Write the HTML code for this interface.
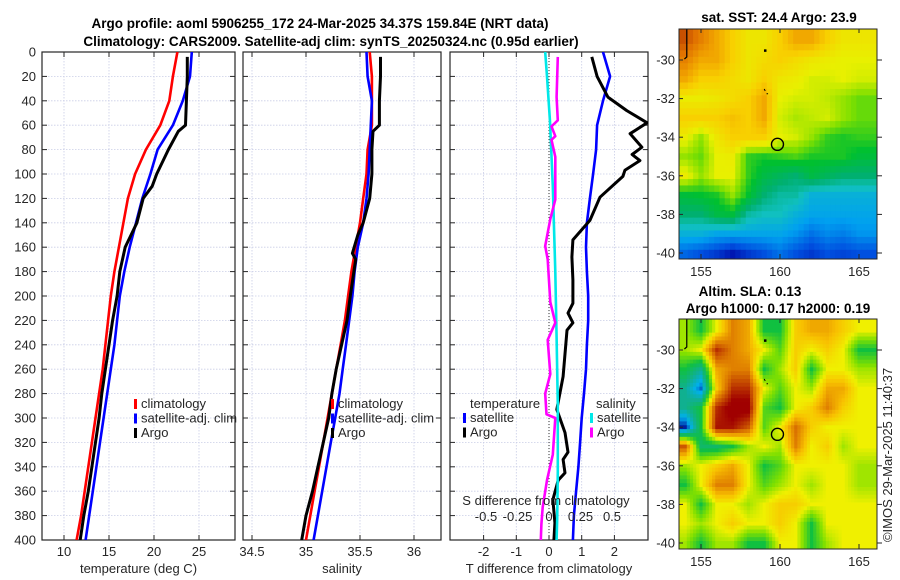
<!DOCTYPE html>
<html><head><meta charset="utf-8">
<style>
html,body{margin:0;padding:0;background:#fff;}
svg{display:block;font-family:"Liberation Sans","DejaVu Sans",sans-serif;}
.t{font-size:13px;fill:#262626;}
.b{font-weight:bold;fill:#000;font-size:13.5px;}
</style></head>
<body>
<svg id="fig" width="900" height="580" viewBox="0 0 900 580" xmlns="http://www.w3.org/2000/svg">
<defs>
<clipPath id="c1"><rect x="42" y="52" width="193" height="488"/></clipPath>
<clipPath id="c2"><rect x="243" y="52" width="198" height="488"/></clipPath>
<clipPath id="c3"><rect x="450" y="52" width="198" height="488"/></clipPath>
<clipPath id="cm1"><rect x="679" y="29" width="198" height="230"/></clipPath>
<clipPath id="cm2"><rect x="679" y="319" width="198" height="230"/></clipPath>
</defs>
<text class="b" x="320" y="28" text-anchor="middle">Argo profile: aoml 5906255_172 24-Mar-2025 34.37S 159.84E (NRT data)</text>
<text class="b" x="331" y="46" text-anchor="middle">Climatology: CARS2009. Satellite-adj clim: synTS_20250324.nc (0.95d earlier)</text>
<text class="b" x="779" y="22" text-anchor="middle">sat. SST: 24.4 Argo: 23.9</text>
<text class="b" x="750" y="296" text-anchor="middle">Altim. SLA: 0.13</text>
<text class="b" x="778" y="313" text-anchor="middle">Argo h1000: 0.17 h2000: 0.19</text>
<text class="t" x="892" y="455" text-anchor="middle" transform="rotate(-90 892 455)">©IMOS 29-Mar-2025 11:40:37</text>
<g id="g"></g>
</svg>
<script>
// ---------- data ----------
const depthTicks=[0,20,40,60,80,100,120,140,160,180,200,220,240,260,280,300,320,340,360,380,400];
const climDepth=[0,20,40,60,80,100,120,140,160,180,200,220,240,260,280,300,320,340,360,380,400];
const climT=[22.6,22.1,21.7,20.7,19.1,17.9,17.1,16.6,16.1,15.6,15.2,14.9,14.6,14.3,13.9,13.5,13.1,12.7,12.3,11.9,11.4];
const satT=[24.2,24.0,23.2,22.1,20.4,19.6,18.7,18.0,17.3,16.7,16.2,15.9,15.6,15.2,14.8,14.4,14.0,13.6,13.2,12.8,12.4];
const argoDepth=[4,20,40,60,65,80,100,110,120,140,160,170,180,200,220,240,260,280,300,320,340,360,380,400];
const argoT=[23.7,23.7,23.6,23.5,22.7,21.6,20.3,19.8,18.8,18.1,16.8,16.5,16.2,15.9,15.4,15.0,14.6,14.2,13.9,13.5,13.1,12.7,12.2,11.8];
const climS=[35.59,35.61,35.61,35.61,35.57,35.56,35.53,35.5,35.46,35.42,35.39,35.36,35.32,35.28,35.24,35.2,35.16,35.12,35.08,35.04,35.0];
const satS=[35.56,35.57,35.61,35.6,35.59,35.58,35.56,35.53,35.48,35.45,35.43,35.4,35.37,35.34,35.31,35.27,35.23,35.19,35.15,35.11,35.07];
const argoSDepth=[4,20,40,60,65,80,100,120,140,150,165,170,200,220,240,260,280,300,320,340,360,380,400];
const argoS=[35.69,35.69,35.68,35.68,35.62,35.61,35.61,35.59,35.53,35.48,35.43,35.46,35.41,35.38,35.33,35.28,35.24,35.21,35.16,35.11,35.06,35.0,34.96];
const satdTDepth=[0,20,40,60,80,100,120,140,160,180,200,220,240,260,280,300,320,340,360,380,400];
const satdT=[1.65,1.87,1.65,1.47,1.44,1.35,1.25,1.16,1.13,1.16,1.2,1.2,1.16,1.13,1.07,1.0,0.95,0.9,0.83,0.76,0.73];
const argodTDepth=[4,20,37,48,58,67,78,84,89,97,102,119,138,154,168,187,206,214,222,228,266,293,312,328,334,345,351,367,386,400];
const argodT=[1.31,1.47,1.8,2.38,3.0,2.48,2.84,2.54,2.78,2.32,2.26,1.56,1.25,0.73,0.7,0.73,0.73,0.58,0.73,0.55,0.43,0.24,0.49,0.58,0.43,0.49,0.28,0.12,0.18,0.15];
const satdSDepth=[0,20,57,110,180,234,289,344,382,400];
const satdS=[-0.03,-0.016,0.008,0.03,0.05,0.06,0.07,0.07,0.065,0.06];
const argodSDepth=[4,37,56,61,69,72,86,121,137,159,170,205,222,236,264,280,297,300,330,351,373,387,400];
const argodS=[0.07,0.06,0.07,0.02,0.05,0.02,0.05,0.05,0.01,-0.03,-0.01,0.01,0.05,-0.01,0.01,-0.03,-0.02,0.05,0.03,-0.016,-0.05,-0.06,-0.065];
const tTicks=[10,15,20,25];
const sTicks=[34.5,35,35.5,36];
const dTTicks=[-2,-1,0,1,2];
const dSTicks=[-0.5,-0.25,0,0.25,0.5];
const dSTickLabels=["-0.5","-0.25","0","0.25","0.5"];
const mapLons=[154,155,156,157,158,159,160,161,162,163,164,165];
const mapLats=[-29,-30,-31,-32,-33,-34,-35,-36,-37,-38,-39,-40];
const sstGrid=[
[25.5,25,24.5,24,23.6,23.6,24,24.5,24.5,24,23.6,23.6],
[25,24.5,24.5,24,23.6,23.8,24,23.8,23.6,23.5,23.4,23.4],
[24.5,24,24,23.8,23.6,24,23.6,23.5,23.3,23.3,23.4,23.3],
[23.5,23.5,23.6,23.8,24,24.5,23.4,23.3,23.3,23.2,23.0,22.8],
[24,24,24,24.2,24,24.5,23.3,23.1,23.2,23.3,23.0,22.8],
[23.5,23,23.6,24,24,24,23.4,23.3,23,22.6,22.5,22.6],
[23,22.8,23.4,23.5,22.6,22.5,22.6,22.7,22.5,22.5,22.5,22.3],
[23.5,23,23.4,23.4,22.6,22.2,22,21.8,22.2,22,21.8,21.8],
[22.3,22.4,22.5,23,22.4,21.8,21.5,21.5,21,21,21,21],
[21.8,21.8,22.2,22.3,21.5,21.3,21.3,21,20.8,20.8,20.8,20.8],
[21,21,20.8,20.8,20.8,20.8,20.8,20.6,20.3,20.5,20.4,20.6],
[20.2,20,19.8,19.5,19.8,20,20.3,20,19.8,20,19.9,20]];
const slaGrid=[
[0.0,-0.1,0.05,0.2,0.15,-0.1,-0.1,0.1,0.15,0.15,0.1,0.05],
[0.0,0.05,0.3,0.2,0.15,0.05,-0.05,0.1,0.05,0.1,0.05,-0.1],
[-0.1,-0.2,0.15,0.2,0.2,-0.1,0.0,0.1,-0.1,0.05,0.05,0.0],
[-0.2,-0.35,0.1,0.3,0.3,0.05,-0.05,0.05,0.0,0.15,0.15,0.05],
[-0.2,-0.1,0.3,0.38,0.38,-0.05,-0.1,0.05,0.1,0.2,0.1,0.05],
[-0.4,-0.1,0.33,0.33,0.25,-0.05,0.05,0.22,0.1,0.05,0.05,0.05],
[0.25,-0.15,-0.15,-0.1,0.0,0.05,0.0,0.2,0.05,0.1,0.0,0.05],
[0.0,0.05,0.1,0.15,0.05,-0.1,-0.05,0.05,0.05,0.05,0.05,0.0],
[-0.1,0.05,0.2,0.2,0.05,-0.05,0.0,0.05,0.0,0.05,0.05,0.0],
[0.05,-0.1,0.05,0.05,0.0,0.05,0.1,0.1,0.05,0.05,0.05,0.05],
[0.05,0.0,0.05,0.1,0.05,0.05,0.1,0.05,-0.1,0.05,0.05,0.05],
[0.0,-0.1,0.0,0.0,-0.1,-0.1,0.05,0.05,-0.1,0.0,0.05,0.05]];
const mapLatTicks=[-30,-32,-34,-36,-38,-40];
const mapLonTicks=[155,160,165];
const argoLon=159.84, argoLat=-34.37;

// ---------- helpers ----------
const NS="http://www.w3.org/2000/svg";
const G=document.getElementById('g');
function mk(tag,attrs,parent){const e=document.createElementNS(NS,tag);for(const k in attrs)e.setAttribute(k,attrs[k]);(parent||G).appendChild(e);return e;}
const yD=d=>52+d*1.22;
const xT=v=>64+(v-10)*9;
const xS=v=>306+(v-35)*108;
const xdT=v=>549+v*32.7;
const xdS=v=>549+v*126;
const mx=lon=>780+(lon-160)*15.8;
const my1=lat=>60+(-30-lat)*19.3;
const my2=lat=>350+(-30-lat)*19.3;

function panel(x0,w,name,xTicks,xf,labels,showY,xlabel){
  const grid=mk('g',{});
  
  
  depthTicks.forEach(d=>{mk('line',{x1:x0,x2:x0+w,y1:yD(d),y2:yD(d),stroke:'#c9cde6','stroke-width':0.8,'stroke-dasharray':'1.5,1.5'},grid);});
  xTicks.forEach(v=>{const x=xf(v);mk('line',{x1:x,x2:x,y1:52,y2:540,stroke:'#c9cde6','stroke-width':0.8,'stroke-dasharray':'1.5,1.5'},grid);});
  const ax=mk('g',{});
  
  
  mk('rect',{x:x0,y:52,width:w,height:488,fill:'none',stroke:'#262626','stroke-width':1.2},ax);
  depthTicks.forEach(d=>{const y=yD(d);
    mk('line',{x1:x0,x2:x0+5,y1:y,y2:y,stroke:'#262626'},ax);
    mk('line',{x1:x0+w-5,x2:x0+w,y1:y,y2:y,stroke:'#262626'},ax);
    if(showY){const t=mk('text',{x:x0-6,y:y+4.5,'text-anchor':'end',class:'t'},ax);t.textContent=d;}
  });
  xTicks.forEach((v,i)=>{const x=xf(v);
    mk('line',{x1:x,x2:x,y1:540,y2:535,stroke:'#262626'},ax);
    mk('line',{x1:x,x2:x,y1:52,y2:57,stroke:'#262626'},ax);
    const t=mk('text',{x:x,y:556,'text-anchor':'middle',class:'t'},ax);t.textContent=labels[i];});
  const xl=mk('text',{x:x0+w/2,y:573,'text-anchor':'middle',class:'t'});
  
  
  xl.textContent=xlabel;
}
function line(xs,ds,xf,color,name,clip,wd){
  const p=xs.map((v,i)=>(i?'L':'M')+xf(v).toFixed(1)+','+yD(ds[i]).toFixed(1)).join('');
  const e=mk('path',{d:p,fill:'none',stroke:color,'stroke-width':wd||2.6,'stroke-linejoin':'round','clip-path':'url(#'+clip+')'});
  
  
}
function legend(x,y,items,name){
  const g=mk('g',{});
  
  
  items.forEach((it,i)=>{
    if(it[1])mk('rect',{x:x,y:y+i*14.5-9,width:3,height:10,fill:it[1]},g);
    const t=mk('text',{x:x+(it[1]?7:0),y:y+i*14.5,class:'t'},g);t.textContent=it[0];});
}

// ---------- panel 1 ----------
panel(42,193,'temperature-panel',tTicks,xT,tTicks.map(String),true,'temperature (deg C)');
line(climT,climDepth,xT,'#ff0000','climatology-temperature-line','c1');
line(satT,climDepth,xT,'#0000ff','satellite-adj-temperature-line','c1');
line(argoT,argoDepth,xT,'#000000','argo-temperature-line','c1',3);
legend(134,408,[['climatology','#ff0000'],['satellite-adj. clim','#0000ff'],['Argo','#000']],'temperature-legend');

// ---------- panel 2 ----------
panel(243,198,'salinity-panel',sTicks,xS,sTicks.map(String),false,'salinity');
line(climS,climDepth,xS,'#ff0000','climatology-salinity-line','c2');
line(satS,climDepth,xS,'#0000ff','satellite-adj-salinity-line','c2');
line(argoS,argoSDepth,xS,'#000000','argo-salinity-line','c2',3);
legend(331,408,[['climatology','#ff0000'],['satellite-adj. clim','#0000ff'],['Argo','#000']],'salinity-legend');

// ---------- panel 3 ----------
panel(450,198,'difference-panel',dTTicks,xdT,dTTicks.map(String),false,'T difference from climatology');
mk('line',{x1:549,x2:549,y1:52,y2:540,stroke:'#333','stroke-width':1,'stroke-dasharray':'1,2'});
line(satdT,satdTDepth,xdT,'#0000ff','satellite-temp-diff-line','c3');
line(argodT,argodTDepth,xdT,'#000000','argo-temp-diff-line','c3',3);
line(satdS,satdSDepth,xdS,'#00e8e8','satellite-sal-diff-line','c3');
line(argodS,argodSDepth,xdS,'#ff00ff','argo-sal-diff-line','c3');
legend(470,408,[['temperature',null]],'diff-legend-temp-head');
legend(463,422,[['satellite','#0000ff'],['Argo','#000']],'diff-legend-temp');
legend(596,408,[['salinity',null]],'diff-legend-sal-head');
legend(590,422,[['satellite','#00e8e8'],['Argo','#ff00ff']],'diff-legend-sal');
const sAx=mk('g',{});


{const t=mk('text',{x:546,y:505,'text-anchor':'middle',class:'t'},sAx);t.textContent='S difference from climatology';}
dSTicks.forEach((v,i)=>{const t=mk('text',{x:xdS(v),y:521,'text-anchor':'middle',class:'t'},sAx);t.textContent=dSTickLabels[i];});

// ---------- maps ----------
const sstStops=[[19.3,[0,0,160]],[20,[0,80,224]],[20.7,[0,160,240]],[21.3,[16,192,192]],[21.8,[0,176,112]],[22.4,[0,192,48]],[22.9,[128,224,0]],[23.4,[232,240,0]],[24,[248,208,0]],[24.6,[240,160,0]],[25.2,[224,112,0]],[25.8,[176,48,0]]];
const slaStops=[[-0.4,[0,32,160]],[-0.3,[0,176,240]],[-0.2,[16,176,144]],[-0.1,[16,192,64]],[-0.02,[128,224,0]],[0.05,[240,240,0]],[0.12,[248,192,0]],[0.2,[224,128,0]],[0.28,[192,64,0]],[0.35,[160,0,0]]];
function cmap(v,st){if(v<=st[0][0])return 'rgb('+st[0][1]+')';
  for(let i=1;i<st.length;i++){if(v<=st[i][0]){const f=(v-st[i-1][0])/(st[i][0]-st[i-1][0]);
    const c=st[i-1][1].map((a,k)=>Math.round(a+(st[i][1][k]-a)*f));return 'rgb('+c+')';}}
  return 'rgb('+st[st.length-1][1]+')';}
function sample(grid,fr,fc){
  const R=grid.length-1,C=grid[0].length-1;
  fr=Math.max(0,Math.min(R,fr));fc=Math.max(0,Math.min(C,fc));
  const r0=Math.floor(fr),c0=Math.floor(fc),r1=Math.min(R,r0+1),c1=Math.min(C,c0+1),a=fr-r0,b=fc-c0;
  return (grid[r0][c0]*(1-b)+grid[r0][c1]*b)*(1-a)+(grid[r1][c0]*(1-b)+grid[r1][c1]*b)*a;
}
function map(grid,stops,myf,clip,name,y0,sub){
  const g=mk('g',{'clip-path':'url(#'+clip+')'});
  
  
  const nR=grid.length*sub+2*sub, nC=grid[0].length*sub+2*sub;
  const cw=15.8/sub, ch=19.3/sub;
  for(let i=0;i<nR;i++)for(let j=0;j<nC;j++){
    const fr=(i-sub+0.5)/sub-0.5, fc=(j-sub+0.5)/sub-0.5;
    const v=sample(grid,fr,fc);
    const x=mx(mapLons[0]-0.5)+(j-sub)*cw, y=myf(mapLats[0]+0.5)+(i-sub)*ch;
    const cell=mk('rect',{x:x.toFixed(2),y:y.toFixed(2),width:(cw+0.5).toFixed(2),height:(ch+0.5).toFixed(2),fill:cmap(v,stops)},g);
    
    
  }
  mk('path',{d:`M${mx(154.1)},${y0} L${mx(154.1)},${y0+28} L${mx(153.95)},${y0+30}`,stroke:'#000','stroke-width':1.2,fill:'none'},g);
  mk('rect',{x:mx(159.05)-1,y:myf(-29.5)-1,width:2.5,height:2.5,fill:'#000'},g);
  mk('path',{d:`M${mx(159)},${myf(-31.5)} l1,2 M${mx(159.15)},${myf(-31.75)} l1.5,0`,stroke:'#000','stroke-width':1},g);
  const ax=mk('g',{});
  
  
  mk('rect',{x:679,y:y0,width:198,height:230,fill:'none',stroke:'#262626','stroke-width':1},ax);
  mapLatTicks.forEach(l=>{const y=myf(l);
    mk('line',{x1:679,x2:683,y1:y,y2:y,stroke:'#262626'},ax);
    mk('line',{x1:877,x2:882,y1:y,y2:y,stroke:'#262626'},ax);
    const t=mk('text',{x:675,y:y+4.5,'text-anchor':'end',class:'t'},ax);t.textContent=l;});
  mapLonTicks.forEach(l=>{const x=mx(l);
    mk('line',{x1:x,x2:x,y1:y0+230,y2:y0+225,stroke:'#262626'},ax);
    mk('line',{x1:x,x2:x,y1:y0,y2:y0+4,stroke:'#262626'},ax);
    const t=mk('text',{x:x,y:y0+247,'text-anchor':'middle',class:'t'},ax);t.textContent=l;});
  const m=mk('circle',{cx:mx(argoLon),cy:myf(argoLat),r:6,fill:'none',stroke:'#000','stroke-width':1.4});
  
  
}
map(sstGrid,sstStops,my1,'cm1','sst-map',29,3);
map(slaGrid,slaStops,my2,'cm2','sla-map',319,5);
</script>
</body></html>
